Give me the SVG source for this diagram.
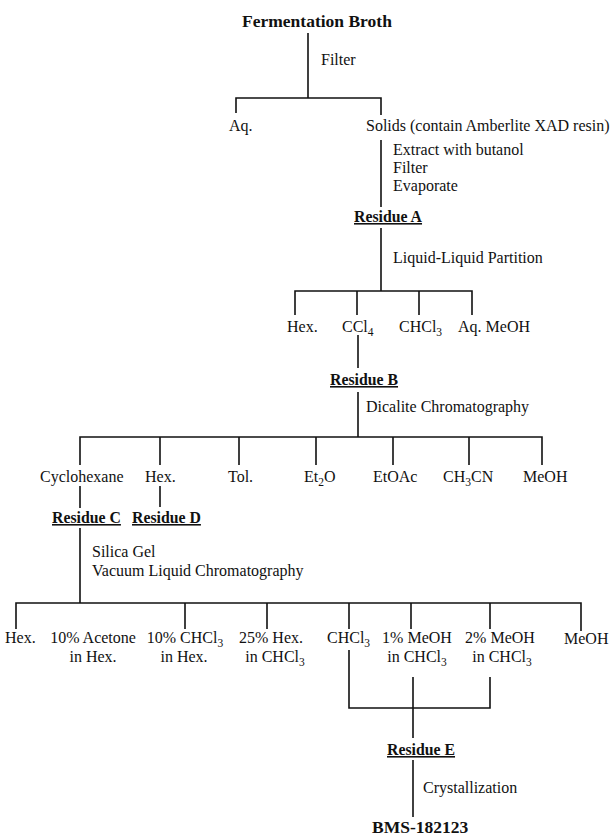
<svg xmlns="http://www.w3.org/2000/svg" width="611" height="836" viewBox="0 0 611 836">
<style>
text{font-family:"Liberation Serif","Times New Roman",serif;font-size:16px;fill:#111}
.t{font-weight:bold;font-size:17.5px}
.r{font-weight:bold;font-size:15.8px;text-decoration:underline}
.s{font-size:11.5px}
.m{text-anchor:middle}
#connectors path{stroke:#111;stroke-width:1.6;fill:none}
</style>
<rect width="611" height="836" fill="#fff"/>
<g id="connectors">
<path d="M308 33V98M236 113V98H381V115"/>
<path d="M381 140V207"/>
<path d="M381 228V291M295 315V291H472V315M357 291V315M419 291V315"/>
<path d="M358 335V368"/>
<path d="M358 392V437M80 465V437H542V465M160 437V465M239 437V465M316 437V465M393 437V465M469 437V465"/>
<path d="M80 486V508M160 486V507"/>
<path d="M80 528V603M16 629V603H581V631M185 603V629M267 603V629M349 603V629M411 603V629M490 603V629"/>
<path d="M349 650V708H490V677M413 677V738"/>
<path d="M413 760V817"/>
</g>
<g id="fermentation-broth"><text class="t" x="242" y="27">Fermentation Broth</text></g>
<g id="step-filter"><text x="321" y="65">Filter</text></g>
<g id="aq"><text x="229" y="131">Aq.</text></g>
<g id="solids"><text x="366" y="131">Solids (contain Amberlite XAD resin)</text></g>
<g id="step-extract"><text x="393" y="155">Extract with butanol</text><text x="393" y="173">Filter</text><text x="393" y="191">Evaporate</text></g>
<g id="residue-a"><text class="r" x="354" y="222">Residue A</text></g>
<g id="step-partition"><text x="393" y="263">Liquid-Liquid Partition</text></g>
<g id="p-hex"><text x="287" y="332">Hex.</text></g>
<g id="p-ccl4"><text x="342" y="332">CCl<tspan class="s" dy="4">4</tspan></text></g>
<g id="p-chcl3"><text x="399" y="332">CHCl<tspan class="s" dy="4">3</tspan></text></g>
<g id="p-aqmeoh"><text x="458" y="332">Aq. MeOH</text></g>
<g id="residue-b"><text class="r" x="330" y="385">Residue B</text></g>
<g id="step-dicalite"><text x="366" y="412">Dicalite Chromatography</text></g>
<g id="d-cyclohexane"><text x="40" y="482">Cyclohexane</text></g>
<g id="d-hex"><text x="145" y="482">Hex.</text></g>
<g id="d-tol"><text x="228" y="482">Tol.</text></g>
<g id="d-et2o"><text x="304" y="482">Et<tspan class="s" dy="4">2</tspan><tspan dy="-4">O</tspan></text></g>
<g id="d-etoac"><text x="373" y="482">EtOAc</text></g>
<g id="d-ch3cn"><text x="443" y="482">CH<tspan class="s" dy="4">3</tspan><tspan dy="-4">CN</tspan></text></g>
<g id="d-meoh"><text x="523" y="482">MeOH</text></g>
<g id="residue-c"><text class="r" x="52" y="523">Residue C</text></g>
<g id="residue-d"><text class="r" x="132" y="523">Residue D</text></g>
<g id="step-silica"><text x="92" y="557">Silica Gel</text><text x="92" y="576">Vacuum Liquid Chromatography</text></g>
<g id="v-hex"><text x="5" y="643">Hex.</text></g>
<g id="v-acetone"><text class="m" x="93" y="643">10% Acetone</text><text class="m" x="93" y="662">in Hex.</text></g>
<g id="v-chcl3hex"><text class="m" x="185" y="643">10% CHCl<tspan class="s" dy="4">3</tspan></text><text class="m" x="184" y="662">in Hex.</text></g>
<g id="v-hexchcl3"><text class="m" x="271" y="643">25% Hex.</text><text class="m" x="275" y="662">in CHCl<tspan class="s" dy="4">3</tspan></text></g>
<g id="v-chcl3"><text x="327" y="643">CHCl<tspan class="s" dy="4">3</tspan></text></g>
<g id="v-1meoh"><text class="m" x="417" y="643">1% MeOH</text><text class="m" x="417" y="662">in CHCl<tspan class="s" dy="4">3</tspan></text></g>
<g id="v-2meoh"><text class="m" x="500" y="643">2% MeOH</text><text class="m" x="502" y="662">in CHCl<tspan class="s" dy="4">3</tspan></text></g>
<g id="v-meoh"><text x="564" y="644">MeOH</text></g>
<g id="residue-e"><text class="r" x="387" y="755">Residue E</text></g>
<g id="step-cryst"><text x="423" y="793">Crystallization</text></g>
<g id="bms"><text class="t" x="372" y="833">BMS-182123</text></g>
</svg>
